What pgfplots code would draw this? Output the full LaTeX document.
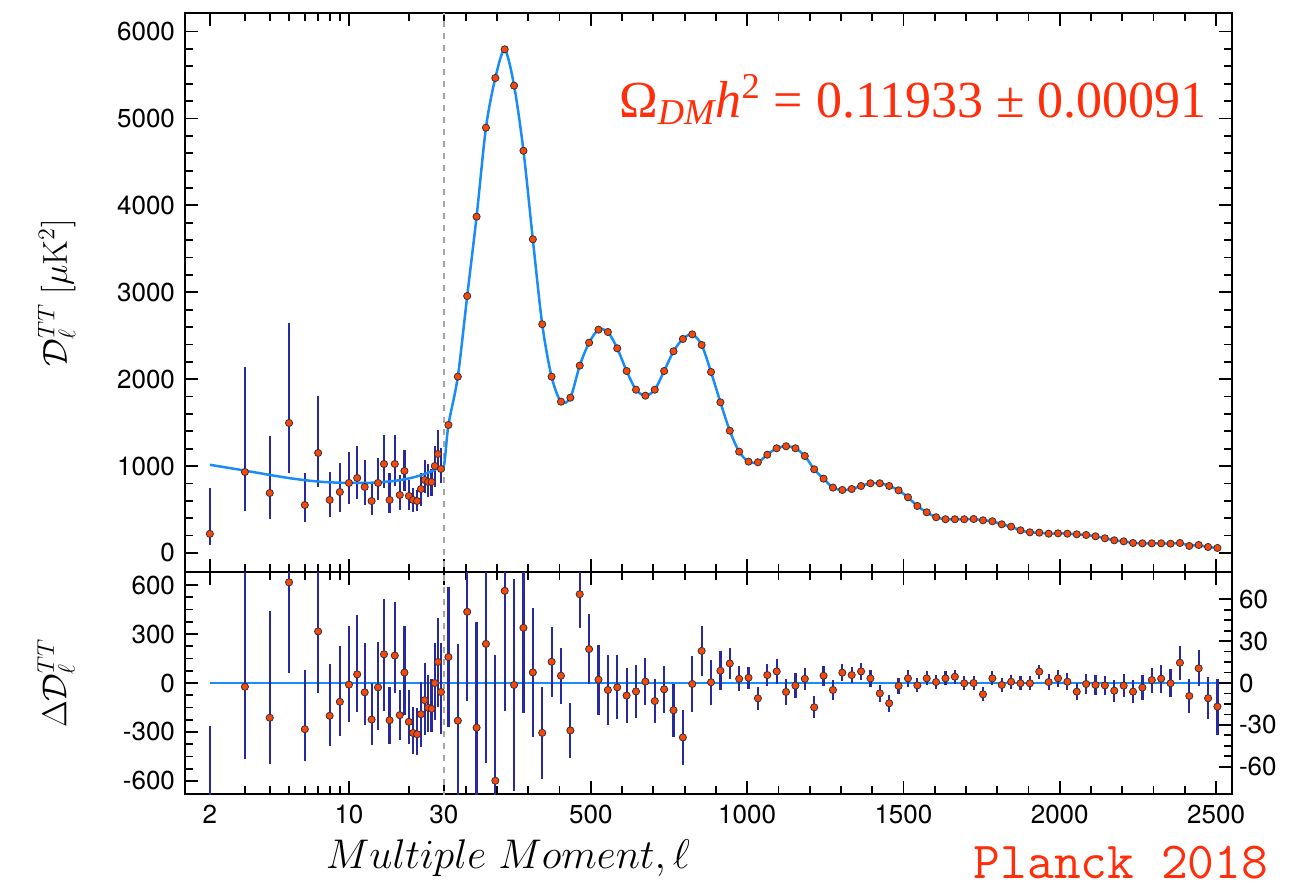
\documentclass[border=0pt]{standalone}
\usepackage[no-math]{fontspec}
\setmainfont{TeX Gyre Heros}
\newfontfamily\timesf{Liberation Serif}
\usepackage{pgfplots}
\usepackage{pgfplotstable}
\pgfplotsset{compat=1.18}

\definecolor{modelblue}{RGB}{25,140,250}
\definecolor{errblue}{RGB}{40,40,160}
\definecolor{ptred}{RGB}{250,70,10}
\definecolor{txtred}{RGB}{255,45,10}

% low-l spectrum: l, D_l, upper and lower error
\pgfplotstableread{
l D ep em
2 220 528 128
3 932 1208 449
4 690 656 299
5 1496 1151 575
6 552 369 195
7 1151 656 391
8 610 322 196
9 702 334 230
10 806 356 242
11 863 368 242
12 760 310 208
13 598 219 161
14 806 287 196
15 1024 330 280
16 610 311 150
17 1024 330 250
18 667 231 172
19 944 240 230
20 656 184 161
21 610 138 138
22 598 125 120
23 736 185 200
24 840 230 150
25 817 210 170
26 817 150 160
27 1001 230 241
28 1139 276 150
29 967 241 161
}\lowup

% low-l residuals (left scale)
\pgfplotstableread{
l R ep em
2 -793 528 128
3 -23 1208 441
4 -213 652 285
5 617 1151 557
6 -283 363 195
7 316 656 376
8 -201 318 187
9 -115 343 209
10 -10 361 228
11 53 361 229
12 -57 305 201
13 -224 226 158
14 -27 281 262
15 176 339 346
16 -228 205 147
17 168 326 232
18 -197 154 154
19 64 283 261
20 -238 195 133
21 -306 160 127
22 -314 160 129
23 -191 199 201
24 -105 226 215
25 -152 200 150
26 -158 180 140
27 0 244 228
28 129 269 275
29 -55 299 255
}\lowres

% binned high-l spectrum: l, D_l, residual (right scale), error
\pgfplotstableread{
l D R e
44.5 1473 18.6 50
74.5 2029 -27 55
104.5 2957 51 64
134.5 3870 -32 76
164.5 4894 28 85
194.5 5466 -70 90
224.5 5796 66 86
254.5 5378 -1.4 76
284.5 4629 39.5 61
314.5 3610 7.6 46
344.5 2632 -35.7 33
374.5 2029 15.2 25
404.5 1741 5.2 20
434.5 1787 -34 20
464.5 2156 63.6 24
494.5 2420 24.3 25
524.5 2570 2.4 25
554.5 2543 -5 25
584.5 2355 -3.1 23
614.5 2094 -9 20
644.5 1879 -6 19
674.5 1810 1 17
704.5 1879 -12.9 16
734.5 2094 -4.5 17
764.5 2321 -19.5 19
794.5 2463 -39 20
824.5 2516 -0.7 20
854.5 2394 23 18
884.5 2083 0.5 16
914.5 1734 8.8 14
944.5 1407 14 11
974.5 1166 3 9
1004.5 1051 3.8 8
1034.5 1044 -11 8
1064.5 1131 5.7 8
1094.5 1205 8.3 9
1124.5 1228 -6.4 9
1154.5 1205 -1.9 9
1184.5 1116 3 8
1214.5 963 -17.4 8
1244.5 855 5.2 7
1274.5 752 -5 7
1304.5 725 7.4 6
1334.5 736 5.7 6
1364.5 771 8.3 6
1394.5 802 3.3 6
1424.5 802 -7.4 6
1454.5 771 -14.5 6
1484.5 721 -2.1 6
1514.5 641 3.3 6
1544.5 541 -1.7 5
1574.5 468 3.3 5
1604.5 411 0.7 5
1634.5 388 3.3 5
1664.5 388 4.5 5
1694.5 388 -0.2 5
1724.5 391 0 5
1754.5 376 -8.1 5
1784.5 365 3.3 5
1814.5 330 -1.4 5
1844.5 303 0.9 5
1874.5 261 -0.2 5
1904.5 238 -0.2 5
1934.5 234 8.1 5
1964.5 222 0.7 6
1994.5 226 3.3 6
2024.5 222 0.9 6
2054.5 215 -6.2 6
2084.5 207 -0.7 7
2114.5 192 -1.4 7
2144.5 169 -1.7 7
2174.5 146 -5.5 8
2204.5 134 -1.9 8
2234.5 115 -6.2 8
2264.5 111 -3.3 9
2294.5 111 2.1 9
2324.5 111 3.1 10
2354.5 107 -0.2 10
2384.5 115 14.5 12
2414.5 81 -9.3 12
2444.5 92 10.5 13
2474.5 69 -10.9 15
2504.5 58 -16.9 20
}\highl

% best-fit model curve
\pgfplotstableread{
l M
2 1015
3 948
4 898
5 862
6 838
7 822
8 813
10 806
12 806
14 812
17 830
20 858
23 895
26 940
28 975
30 1005
44.5 1473
74.5 2029
104.5 2957
134.5 3870
164.5 4894
194.5 5466
224.5 5790
254.5 5378
284.5 4629
314.5 3610
344.5 2632
374.5 2029
404.5 1741
434.5 1787
464.5 2156
494.5 2420
524.5 2570
554.5 2543
584.5 2355
614.5 2094
644.5 1879
674.5 1810
704.5 1879
734.5 2094
764.5 2321
794.5 2463
824.5 2516
854.5 2394
884.5 2083
914.5 1734
944.5 1407
974.5 1166
1004.5 1051
1034.5 1044
1064.5 1131
1094.5 1205
1124.5 1228
1154.5 1205
1184.5 1116
1214.5 963
1244.5 855
1274.5 752
1304.5 725
1334.5 736
1364.5 771
1394.5 802
1424.5 802
1454.5 771
1484.5 721
1514.5 641
1544.5 541
1574.5 468
1604.5 411
1634.5 388
1664.5 388
1694.5 388
1724.5 391
1754.5 376
1784.5 365
1814.5 330
1844.5 303
1874.5 261
1904.5 238
1934.5 234
1964.5 222
1994.5 226
2024.5 222
2054.5 215
2084.5 207
2114.5 192
2144.5 169
2174.5 146
2204.5 134
2234.5 115
2264.5 111
2294.5 111
2324.5 111
2354.5 107
2384.5 112
2414.5 88
2444.5 88
2474.5 69
2504.5 58
}\model

\pgfplotsset{
  planck/.style={
    scale only axis, width=523.5pt,
    xmin=1.5, xmax=2551,
    % log scale below l=30, linear above
    x coord trafo/.code={\pgfmathparse{(##1<=30)?(199*(log10(##1)-1.4771213)):(0.3126*(##1-30))}},
    xtick={2,10,30,500,1000,1500,2000,2500},
    minor xtick={3,4,5,6,7,8,9,20,100,200,300,400,600,700,800,900,1100,1200,1300,1400,1600,1700,1800,1900,2100,2200,2300,2400},
    tick align=inside,
    major tick length=6.5pt, minor tick length=4pt,
    tick style={black, line width=0.9pt},
    axis line style={line width=1pt},
    tick label style={font=\fontsize{13}{15}\selectfont},
    xticklabel style={yshift=-2pt},
    yticklabel style={xshift=-1.5pt},
    label style={font=\fontsize{17}{20}\selectfont},
  },
  pts/.style={only marks, mark=*, mark size=1.8pt,
    mark options={fill=ptred, draw=black!80, line width=0.4pt}},
  ebars/.style={error bars/.cd, y dir=both, y explicit, error mark=none,
    error bar style={draw=errblue, line width=1.1pt}},
}

\begin{document}
\begin{tikzpicture}
\path (-92.5pt,-159.5pt) rectangle (556pt,286pt);

\begin{axis}[planck, at={(0,0)}, anchor=south west, height=279.5pt,
  ymin=-219, ymax=6214,
  ytick={0,1000,2000,3000,4000,5000,6000},
  yticklabels={0,1000,2000,3000,4000,5000,6000},
  minor y tick num=4, xticklabels={},
  ylabel={$\mathcal{D}_\ell^{TT}\ [\mu\mathrm{K}^2]$},
  ylabel style={at={(axis description cs:-0.1225,0.5)}, anchor=center}]
\addplot[gray!70, dashed, line width=0.7pt] coordinates {(30,-300) (30,6300)};
\addplot[draw=none, forget plot, ebars] table[x=l, y=D, y error plus=ep, y error minus=em]{\lowup};
\addplot[modelblue, line width=1.25pt, smooth] table[x=l, y=M]{\model};
\addplot[pts] table[x=l, y=D]{\lowup};
\addplot[pts] table[x=l, y=D]{\highl};
\end{axis}

\begin{axis}[planck, at={(0,0)}, anchor=north west, height=111pt,
  ymin=-680, ymax=680,
  ytick={-600,-300,0,300,600},
  yticklabels={-600,-300,0,300,600},
  minor y tick num=3, ytick pos=left,
  xticklabels={2,10,30,500,1000,1500,2000,2500},
  ylabel={$\Delta\mathcal{D}_\ell^{TT}$},
  ylabel style={at={(axis description cs:-0.123,0.5)}, anchor=center}]
\addplot[modelblue, line width=1.25pt] coordinates {(2,0) (2508,0)};
\addplot[gray!70, dashed, line width=0.7pt] coordinates {(30,-700) (30,700)};
\addplot[pts, ebars] table[x=l, y=R, y error plus=ep, y error minus=em]{\lowres};
\end{axis}

% right-hand scale of the residuals for l >= 30
\begin{axis}[planck, at={(0,0)}, anchor=north west, height=111pt,
  ymin=-79.5, ymax=79.5, hide x axis,
  ytick={-60,-30,0,30,60},
  yticklabels={-60,-30,0,30,60},
  minor y tick num=3, ytick pos=right, yticklabel pos=right,
  yticklabel style={xshift=1.5pt}]
\addplot[pts, ebars] table[x=l, y=R, y error=e]{\highl};
\end{axis}

\node[inner sep=0pt, anchor=base, font=\fontsize{22}{26}\selectfont] at (161.5pt,-148pt) {$Multiple\ Moment,\ell$};
\node[inner sep=0pt, anchor=base, text=txtred, font=\ttfamily\fontsize{26}{30}\selectfont] at (468pt,-153pt) {Planck 2018};
\node[inner sep=0pt, anchor=base, text=txtred, font=\timesf\fontsize{26}{30}\selectfont] at (364pt,227.5pt)
  {Ω\textsubscript{\itshape DM}\textit{h}\textsuperscript{2} = 0.11933 ± 0.00091};
\end{tikzpicture}
\end{document}
